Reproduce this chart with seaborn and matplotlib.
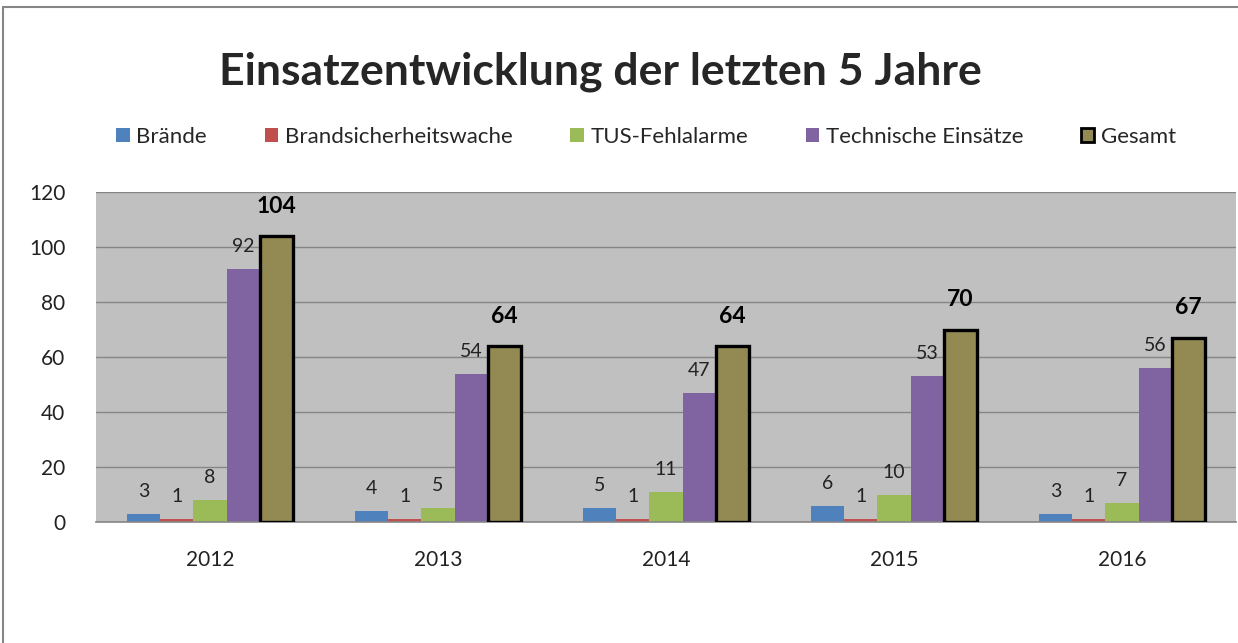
import matplotlib
matplotlib.use("Agg")
import matplotlib.pyplot as plt
import seaborn as sns
import pandas as pd
from matplotlib.lines import Line2D
from matplotlib.patches import Patch

years = ["2012", "2013", "2014", "2015", "2016"]
series_names = ["Brände", "Brandsicherheitswache", "TUS-Fehlalarme", "Technische Einsätze", "Gesamt"]
braende = [3, 4, 5, 6, 3]
bsw = [1, 1, 1, 1, 1]
tus = [8, 5, 11, 10, 7]
technisch = [92, 54, 47, 53, 56]
gesamt = [104, 64, 64, 70, 67]
yticks = [0, 20, 40, 60, 80, 100, 120]
title = "Einsatzentwicklung der letzten 5 Jahre"

colors = ["#4F81BD", "#C0504D", "#9BBB59", "#8064A2", "#938953"]

rows = []
for name, vals in zip(series_names, [braende, bsw, tus, technisch, gesamt]):
    for y, v in zip(years, vals):
        rows.append({"Jahr": y, "Serie": name, "Wert": v})
df = pd.DataFrame(rows)

sns.set_theme(style="white")
plt.rcParams["font.family"] = ["Lato", "DejaVu Sans"]

fig = plt.figure(figsize=(12.38, 6.43), dpi=100)
ax = fig.add_axes([96/1238, 1-522/643, 1140/1238, 330/643])
ax.set_facecolor("#C0C0C0")

sns.barplot(data=df, x="Jahr", y="Wert", hue="Serie", order=years,
            hue_order=series_names, palette=colors, width=0.73,
            saturation=1, ax=ax, legend=False, errorbar=None)

for i, cont in enumerate(ax.containers):
    for bar in cont:
        bar.set_linewidth(0)
    if series_names[i] == "Gesamt":
        for bar in cont:
            bar.set_edgecolor("black")
            bar.set_linewidth(2.4)
            bar.set_zorder(3)

for i, cont in enumerate(ax.containers):
    vals = cont.datavalues
    for bar, v in zip(cont, vals):
        x = bar.get_x() + bar.get_width() / 2
        if series_names[i] == "Gesamt":
            ax.annotate(f"{int(v)}", (x, v), xytext=(0, 14), textcoords="offset points",
                        ha="center", va="bottom", fontsize=16.5, fontweight="bold", color="black")
        else:
            ax.annotate(f"{int(v)}", (x, v), xytext=(0, 10), textcoords="offset points",
                        ha="center", va="bottom", fontsize=14, color="#222222")

ax.set_ylim(0, 120)
ax.set_xlim(-0.5, 4.5)
ax.set_yticks(yticks)
ax.yaxis.grid(True, color="#868686", linewidth=1)
ax.set_axisbelow(True)
for s in ["top", "right", "left"]:
    ax.spines[s].set_visible(False)
ax.spines["bottom"].set_color("#868686")
ax.spines["bottom"].set_linewidth(1.2)
ax.tick_params(axis="both", length=0, labelsize=15, colors="#222222")
ax.tick_params(axis="y", pad=22)
ax.tick_params(axis="x", pad=20)
ax.set_xlabel("")
ax.set_ylabel("")

fig.text(0.485, 1-72/643, title, ha="center", va="center", fontsize=32, fontweight="bold")

handles = [Patch(facecolor=c, edgecolor=("black" if n == "Gesamt" else c), linewidth=(2 if n == "Gesamt" else 0))
           for c, n in zip(colors, series_names)]
fig.legend(handles, series_names, loc="center", bbox_to_anchor=(0.522, 1-137/643), ncol=5,
           frameon=False, fontsize=16, handlelength=0.6, handleheight=0.6,
           handletextpad=0.3, columnspacing=2.6)

fig.add_artist(Line2D([3/1238, 3/1238], [0, 1-7/643], transform=fig.transFigure, color="#868686", lw=1.5))
fig.add_artist(Line2D([3/1238, 1], [1-7/643, 1-7/643], transform=fig.transFigure, color="#868686", lw=1.5))

fig.savefig("out.png", dpi=100, facecolor="white")
